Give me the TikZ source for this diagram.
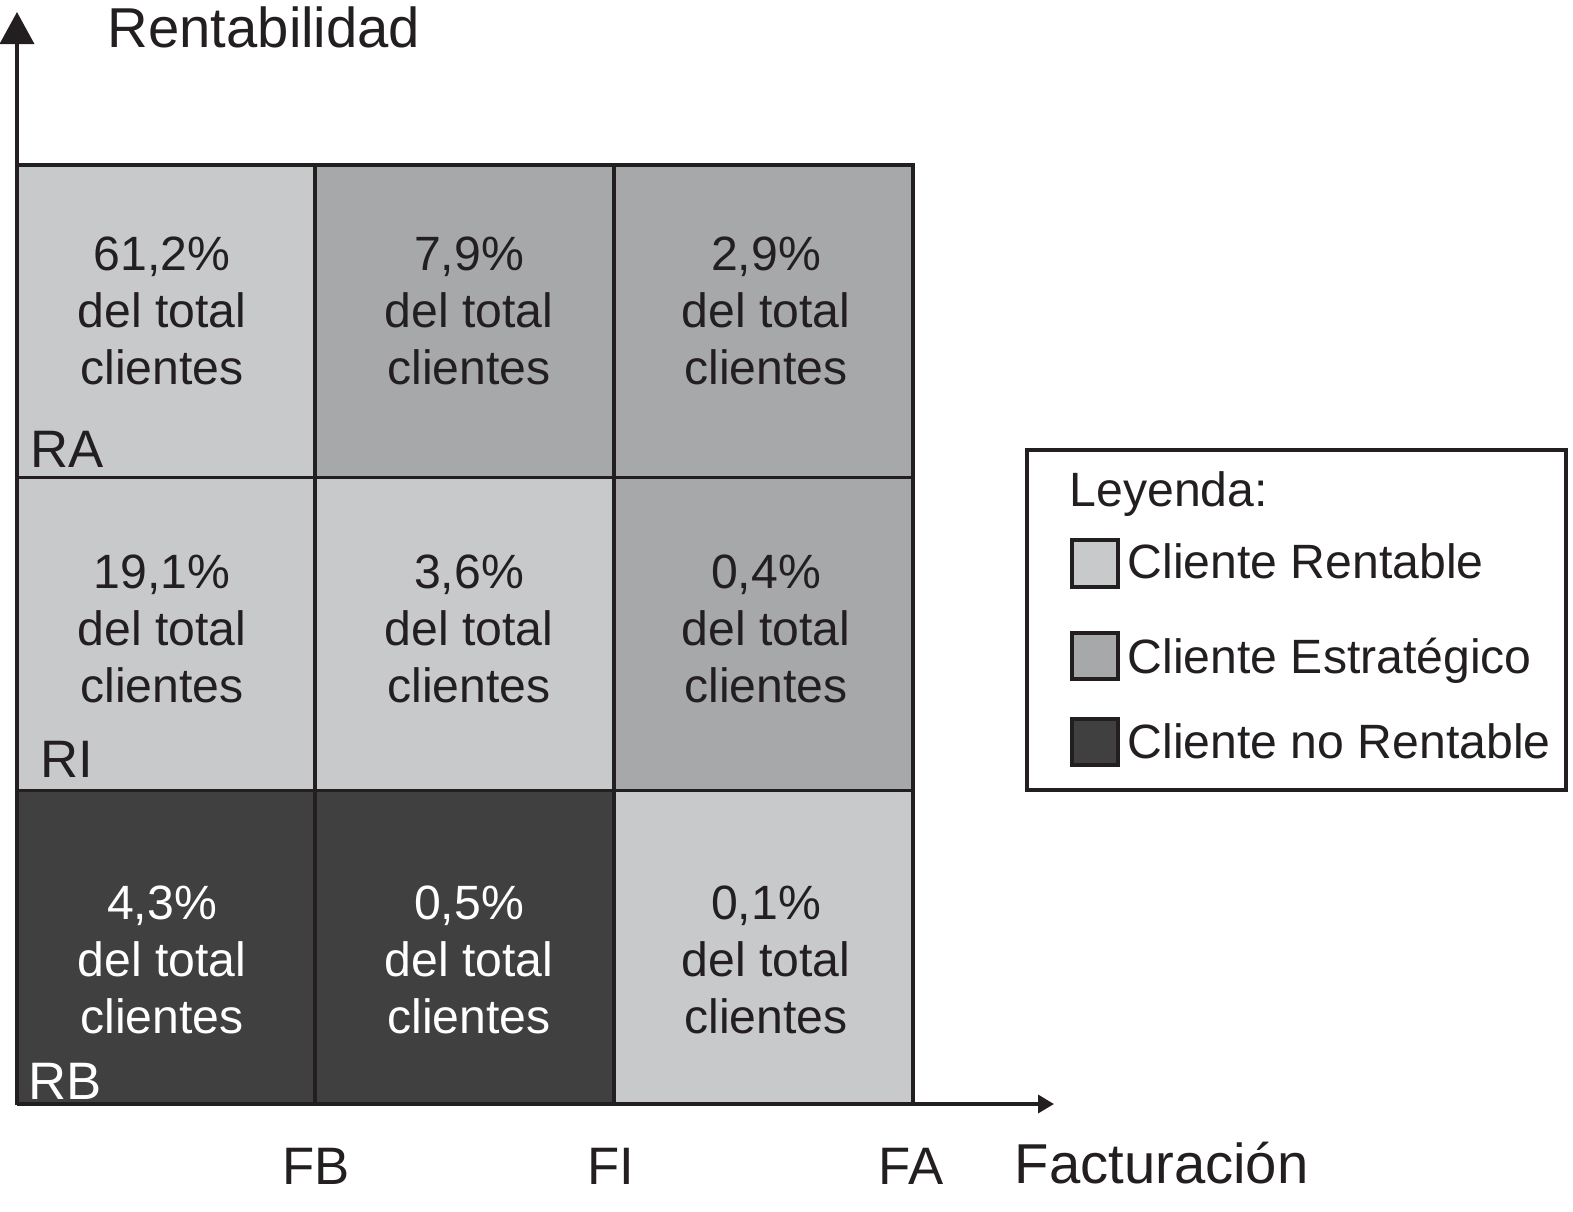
\documentclass[tikz,border=0pt]{standalone}
\usepackage{fontspec}
\setmainfont{Liberation Sans}
\usetikzlibrary{arrows.meta}

\definecolor{rentable}{HTML}{C8C9CB}
\definecolor{estrategico}{HTML}{A7A8AA}
\definecolor{norentable}{HTML}{404041}
\definecolor{linea}{HTML}{231F20}

\tikzset{
  cell/.style={draw=linea, line width=1pt, rectangle, inner sep=0pt, outer sep=0pt,
               minimum width=2.99cm, minimum height=3.13cm},
  celltext/.style={align=center, font=\fontsize{13.7}{16.2}\selectfont, text=linea},
  darktext/.style={celltext, text=white},
  axislabel/.style={font=\fontsize{15}{18}\selectfont, text=linea},
  axistitle/.style={font=\fontsize{16}{19}\selectfont, text=linea, anchor=base west},
  swatch/.style={draw=linea, line width=1pt},
  legendtext/.style={font=\fontsize{13.7}{16}\selectfont, text=linea, anchor=base west}
}

\begin{document}
\begin{tikzpicture}
            \useasboundingbox (0,0) rectangle (15.73,12.11);

            % matriz
            \node[cell, fill=rentable] (c11) at (1.66, 8.895) {};
            \node[cell, fill=estrategico] (c12) at (4.645, 8.895) {};
            \node[cell, fill=estrategico] (c13) at (7.635, 8.895) {};
            \node[cell, fill=rentable] (c21) at (1.66, 5.77) {};
            \node[cell, fill=rentable] (c22) at (4.645, 5.77) {};
            \node[cell, fill=estrategico] (c23) at (7.635, 5.77) {};
            \node[cell, fill=norentable] (c31) at (1.66, 2.64) {};
            \node[cell, fill=norentable] (c32) at (4.645, 2.64) {};
            \node[cell, fill=rentable] (c33) at (7.635, 2.64) {};

            \node[celltext] (t11) at (1.62, 9.005) {61,2\%\\del total\\clientes};
            \node[celltext] (t12) at (4.69, 9.005) {7,9\%\\del total\\clientes};
            \node[celltext] (t13) at (7.66, 9.005) {2,9\%\\del total\\clientes};
            \node[celltext] (t21) at (1.62, 5.82) {19,1\%\\del total\\clientes};
            \node[celltext] (t22) at (4.69, 5.82) {3,6\%\\del total\\clientes};
            \node[celltext] (t23) at (7.66, 5.82) {0,4\%\\del total\\clientes};
            \node[darktext] (t31) at (1.62, 2.51) {4,3\%\\del total\\clientes};
            \node[darktext] (t32) at (4.69, 2.51) {0,5\%\\del total\\clientes};
            \node[celltext] (t33) at (7.66, 2.51) {0,1\%\\del total\\clientes};

            % niveles de rentabilidad
            \node[axislabel, anchor=base west, inner sep=0pt] (ra) at (0.30, 7.44) {RA};
            \node[axislabel, anchor=base west, inner sep=0pt] (ri) at (0.40, 4.34) {RI};
            \node[axislabel, anchor=base west, inner sep=0pt, text=white] (rb) at (0.28, 1.12) {RB};

            % ejes
            \coordinate (origen) at (0.17, 1.07);
            \coordinate (ytop) at (0.17, 11.99);
            \coordinate (xend) at (10.54, 1.07);
            \draw[linea, line width=1pt, -{Triangle[width=0.34cm, length=0.32cm]}] (origen) -- (ytop);
            \draw[linea, line width=1pt, -{Triangle[width=0.18cm, length=0.16cm]}] (origen) -- (xend);
            \node[axistitle, inner sep=0pt] (rent) at (1.07, 11.63) {Rentabilidad};
            \node[axistitle, inner sep=0pt] (fact) at (10.14, 0.28) {Facturación};

            % niveles de facturacion
            \node[axislabel, anchor=base, inner sep=0pt] (fb) at (3.16, 0.27) {FB};
            \node[axislabel, anchor=base, inner sep=0pt] (fi) at (6.11, 0.27) {FI};
            \node[axislabel, anchor=base, inner sep=0pt] (fa) at (9.11, 0.27) {FA};

            % leyenda
            \draw[linea, line width=1pt] (10.27, 4.21) rectangle (15.66, 7.61);
            \node[legendtext, inner sep=0pt] (ley) at (10.69, 7.05) {Leyenda:};
            \draw[swatch, fill=rentable] (10.72, 6.24) rectangle (11.18, 6.71);
            \draw[swatch, fill=estrategico] (10.72, 5.32) rectangle (11.18, 5.78);
            \draw[swatch, fill=norentable] (10.72, 4.46) rectangle (11.18, 4.92);
            \node[legendtext, inner sep=0pt] (l1) at (11.27, 6.33) {Cliente Rentable};
            \node[legendtext, inner sep=0pt] (l2) at (11.27, 5.38) {Cliente Estratégico};
            \node[legendtext, inner sep=0pt] (l3) at (11.27, 4.53) {Cliente no Rentable};
        \end{tikzpicture}
\end{document}
